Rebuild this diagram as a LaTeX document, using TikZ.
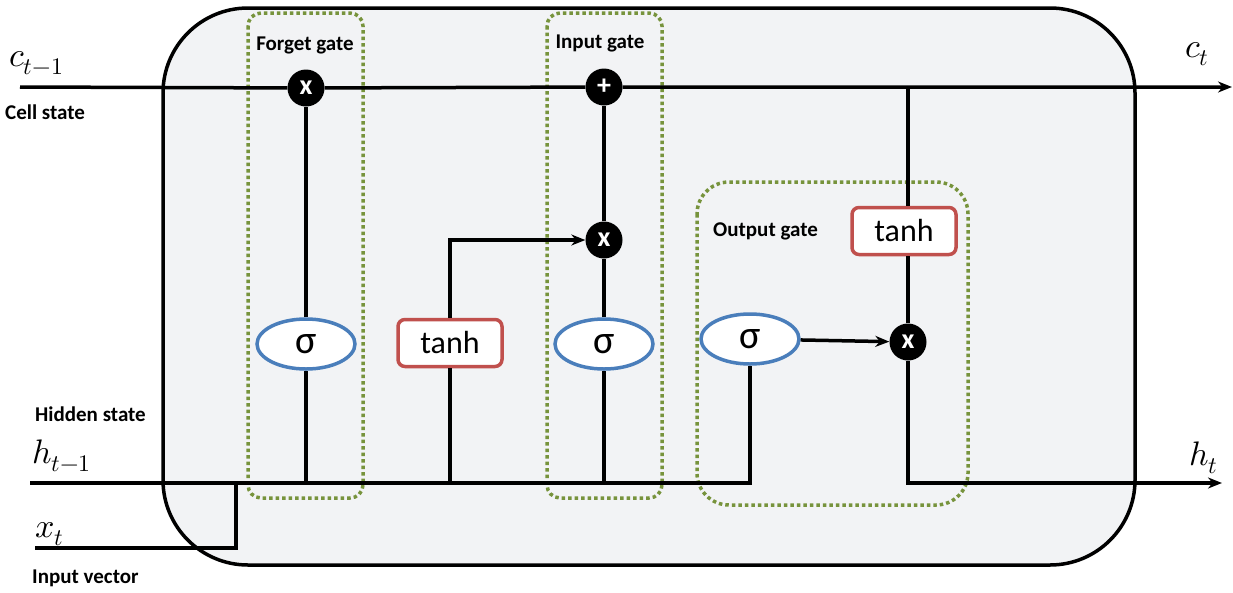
\documentclass[tikz,border=0pt]{standalone}
\usepackage{fontspec}
\usepackage{unicode-math}
\setmainfont{Carlito}
\setmathfont{Latin Modern Math}
\usetikzlibrary{arrows.meta,shapes.geometric}
\definecolor{cellbg}{HTML}{F2F3F5}
\definecolor{gategreen}{HTML}{77933C}
\definecolor{sigblue}{HTML}{4A7EBB}
\definecolor{tanhred}{HTML}{C0504D}
\tikzset{
  wire/.style={line width=3.5pt, black},
  arr/.style={wire, -{Stealth[length=14pt,width=11pt]}},
  op/.style={circle, fill=black, minimum size=37pt, inner sep=0pt, text=white,
    font=\bfseries\fontsize{28}{28}\selectfont},
  sig/.style={ellipse, draw=sigblue, line width=3.5pt, fill=white, minimum width=98pt,
    minimum height=50pt, inner sep=0pt, font=\fontsize{40}{40}\selectfont},
  tanhbox/.style={rectangle, rounded corners=7pt, draw=tanhred, line width=3.5pt, fill=white,
    minimum width=104pt, minimum height=47pt, inner sep=0pt, font=\fontsize{32}{32}\selectfont},
  gatebox/.style={draw=gategreen, line width=3.5pt, dash pattern=on 3.5pt off 3pt},
  lbl/.style={font=\bfseries\fontsize{21}{21}\selectfont, inner sep=0pt},
  mlbl/.style={font=\fontsize{34}{34}\selectfont, inner sep=0pt, anchor=base west}
}
\begin{document}
\begin{tikzpicture}[x=1pt, y=-1pt]
\useasboundingbox (0,0) rectangle (1233,592);

% LSTM cell body
\draw[line width=3.5pt, fill=cellbg, rounded corners=85pt] (163,8) rectangle (1135,565);

% gate outlines
\draw[gatebox, rounded corners=13pt] (248,13) rectangle (363,498);
\draw[gatebox, rounded corners=13pt] (547,13) rectangle (662,498);
\draw[gatebox, rounded corners=32pt] (697,182) rectangle (968,505);

% operators and activations
\node[op] (fx) at (306,88) {x};
\node[op] (ip) at (604,87) {+};
\node[op] (ix) at (604,240) {x};
\node[op] (ox) at (908,342) {x};
\node[sig] (fs) at (306,344) {σ};
\node[tanhbox] (t1) at (450,343) {tanh};
\node[sig] (is) at (604,344) {σ};
\node[sig] (os) at (750,339) {σ};
\node[tanhbox] (t2) at (904,231) {tanh};

% junction points
\coordinate (cin) at (20,87);
\coordinate (cout) at (1232,87);
\coordinate (cj) at (908,87);
\coordinate (hin) at (30,483);
\coordinate (hend) at (750,483);
\coordinate (hj) at (908,483);
\coordinate (hout) at (1222,483);
\coordinate (xin) at (35,548);
\coordinate (xc) at (236,548);
\coordinate (xh) at (236,483);
\coordinate (fh) at (306,483);
\coordinate (th) at (450,483);
\coordinate (tc) at (450,240);
\coordinate (ih) at (604,483);

% cell state
\draw[arr] (cin) -- (fx) -- (ip) -- (cout);
% hidden state and input
\draw[wire] (hin) -- (hend) -- (os);
\draw[wire] (xin) -- (xc) -- (xh);
% forget gate
\draw[wire] (fh) -- (fs) -- (fx);
% candidate values
\draw[arr] (th) -- (t1) -- (tc) -- (ix);
% input gate
\draw[wire] (ih) -- (is) -- (ix) -- (ip);
% output gate
\draw[arr] (os) -- (ox);
\draw[wire] (cj) -- (t2.north -| cj);
\draw[wire] (t2.south -| cj) -- (ox);
\draw[arr] (ox) -- (hj) -- (hout);

% labels
\node[lbl] (lf) at (305,45) {Forget gate};
\node[lbl] (li) at (600,43) {Input gate};
\node[lbl, anchor=west] (lo) at (713,231) {Output gate};
\node[lbl, anchor=west] (lc) at (5,112) {Cell state};
\node[lbl, anchor=west] (lh) at (35,414) {Hidden state};
\node[lbl, anchor=west] (lx) at (32,578) {Input vector};

\node[mlbl] (mc) at (9,66) {$c_{t-1}$};
\node[mlbl] (mh) at (32,463) {$h_{t-1}$};
\node[mlbl] (mx) at (35,537) {$x_t$};
\node[mlbl] (mct) at (1185,57) {$c_t$};
\node[mlbl] (mht) at (1189,465) {$h_t$};
\end{tikzpicture}
\end{document}
